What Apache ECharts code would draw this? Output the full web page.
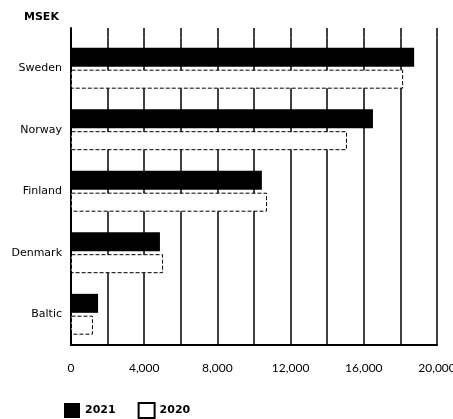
<!DOCTYPE html>
<html>
<head>
<meta charset="utf-8">
<script src="https://cdn.jsdelivr.net/npm/echarts@6/dist/echarts.min.js"></script>
<style>html,body{margin:0;padding:0;background:#fff;}#c{width:453px;height:419px;}</style>
</head>
<body>
<div id="c"></div>
<script>
const categories = ['Sweden', 'Norway', 'Finland', 'Denmark', 'Baltic'];
const values2021 = [18750, 16500, 10430, 4860, 1480];
const values2020 = [18150, 15080, 10710, 5030, 1200];
const xTicks = [0, 4000, 8000, 12000, 16000, 20000];

const FONT = 'DejaVu Sans';
const chart = echarts.init(document.getElementById('c'), null, {renderer: 'canvas'});
const fmt = v => xTicks.indexOf(v) >= 0 ? v.toLocaleString('en-US') : '';

chart.setOption({
  animation: false,
  backgroundColor: '#fff',
  textStyle: {fontFamily: FONT, color: '#000'},
  title: {
    text: 'MSEK', left: 19, top: 7,
    textStyle: {fontFamily: FONT, fontSize: 11, fontWeight: 'bold', color: '#000'}
  },
  legend: {
    left: 59, top: 397, itemWidth: 16, itemHeight: 15, itemGap: 22, icon: 'rect',
    textStyle: {fontFamily: FONT, fontSize: 11, fontWeight: 'bold', color: '#000'},
    data: ['2021', '2020']
  },
  grid: [
    {left: 71, right: 16, top: 37.5, bottom: 74, outerBoundsMode: 'none', containLabel: false},
    {left: 71, right: 16, top: 28, height: 9.5, outerBoundsMode: 'none', containLabel: false}
  ],
  xAxis: [
    {
      type: 'value', gridIndex: 0, min: 0, max: 20000, interval: 2000,
      axisLine: {show: true, lineStyle: {color: '#000', width: 2}},
      axisTick: {show: false},
      splitLine: {show: true, lineStyle: {color: '#000', width: 1.5}},
      axisLabel: {formatter: fmt, fontFamily: 'Lato', fontSize: 12, color: '#000', margin: 17, showMaxLabel: true}
    },
    {
      type: 'value', gridIndex: 1, min: 0, max: 20000, interval: 2000,
      axisLine: {show: false}, axisTick: {show: false}, axisLabel: {show: false},
      splitLine: {show: true, lineStyle: {color: '#000', width: 1.5}}
    }
  ],
  yAxis: [
    {
      type: 'category', gridIndex: 0, data: categories, inverse: true,
      axisLine: {show: true, lineStyle: {color: '#000', width: 2}},
      axisTick: {show: false},
      axisLabel: {fontFamily: FONT, fontSize: 11, color: '#000', margin: 9}
    },
    {
      type: 'category', gridIndex: 1, data: [''],
      axisLine: {show: true, lineStyle: {color: '#000', width: 2}},
      axisTick: {show: false}, axisLabel: {show: false}
    }
  ],
  series: [
    {
      name: '2021', type: 'bar', xAxisIndex: 0, yAxisIndex: 0,
      data: values2021, barWidth: 19, barGap: '15%',
      itemStyle: {color: '#000'}
    },
    {
      name: '2020', type: 'bar', xAxisIndex: 0, yAxisIndex: 0,
      data: values2020, barWidth: 19, barGap: '15%',
      itemStyle: {color: '#fff', borderColor: '#000', borderWidth: 1, borderType: 'dashed'}
    }
  ]
});
</script>
</body>
</html>
